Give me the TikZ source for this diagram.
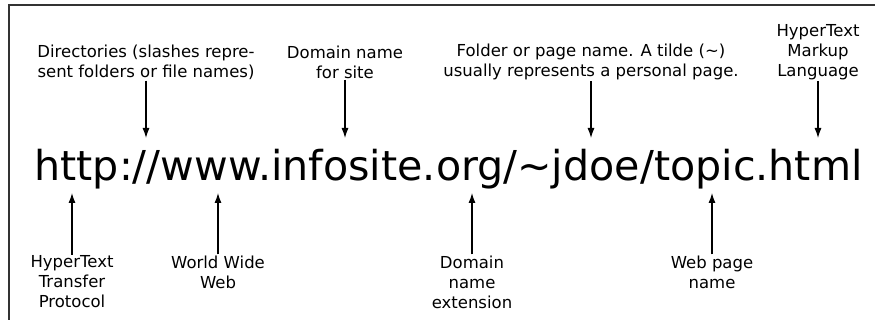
\documentclass[tikz,border=0pt]{standalone}
\usepackage{fontspec}
\setmainfont{DejaVu Sans}
\usetikzlibrary{arrows,arrows.meta}

\begin{document}
\begin{tikzpicture}[x=1pt,y=-1pt,
            LABEL/.style={inner sep=1pt, align=center, font=\fontsize{16.5}{20}\selectfont},
            PTR/.style={-{Latex[length=10pt,width=7pt]}, line width=1.1pt},
        ]
        \useasboundingbox (0,0) rectangle (875,320);
        \draw[line width=1.3pt, black!80] (9,320) -- (9,5) -- (875,5);

        \node[inner sep=0pt, anchor=base, font=\fontsize{41.2}{44}\selectfont] (URL) at (448.5,181) {http://www.infosite.org/\char"223C jdoe/topic.html};

        \node[LABEL] (Dirs)        at (146,62)  {Directories (slashes repre-\\sent folders or file names)};
        \node[LABEL] (Domain_Name) at (345,62)  {Domain name\\for site};
        \node[LABEL] (Folder)      at (591,62)  {Folder or page name. A tilde (\char"223C)\\usually represents a personal page.};
        \node[LABEL] (HTML)        at (818,52)  {HyperText\\Markup\\Language};

        \node[LABEL] (HTTP)        at (72,282)  {HyperText\\Transfer\\Protocol};
        \node[LABEL] (WWW)         at (218,272) {World Wide\\Web};
        \node[LABEL] (Ext)         at (472,282) {Domain\\name\\extension};
        \node[LABEL] (Page)        at (712,272) {Web page\\name};

        \coordinate (P_Dirs)   at (146,138);
        \coordinate (P_Domain) at (345,138);
        \coordinate (P_Folder) at (591,138);
        \coordinate (P_HTML)   at (818,138);
        \coordinate (P_HTTP)   at (72,193);
        \coordinate (P_WWW)    at (218,193);
        \coordinate (P_Ext)    at (472,193);
        \coordinate (P_Page)   at (712,193);

        \draw[PTR] (Dirs.south)        -- (P_Dirs);
        \draw[PTR] (Domain_Name.south) -- (P_Domain);
        \draw[PTR] (Folder.south)      -- (P_Folder);
        \draw[PTR] (HTML.south)        -- (P_HTML);
        \draw[PTR] (HTTP.north)        -- (P_HTTP);
        \draw[PTR] (WWW.north)         -- (P_WWW);
        \draw[PTR] (Ext.north)         -- (P_Ext);
        \draw[PTR] (Page.north)        -- (P_Page);

    \end{tikzpicture}
\end{document}
